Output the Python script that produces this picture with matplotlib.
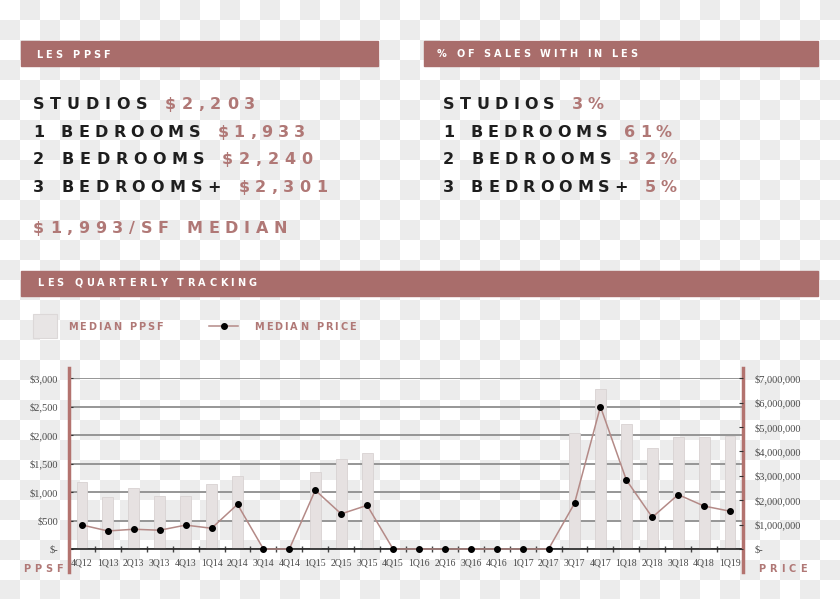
"""LES market snapshot: PPSF by unit type, sales mix and quarterly tracking."""
import numpy as np
import matplotlib
matplotlib.use('Agg')
import matplotlib.pyplot as plt
from matplotlib.patches import Rectangle
from matplotlib.font_manager import FontProperties
from matplotlib.ticker import FixedLocator, FuncFormatter

# ── data ─────────────────────────────────────────────────────────────────────
unit_types   = ['STUDIOS', '1 BEDROOMS', '2 BEDROOMS', '3 BEDROOMS+']
ppsf_by_unit = [2203, 1933, 2240, 2301]
share_by_unit = [3, 61, 32, 5]
median_ppsf_all = 1993

quarters = ['4Q12', '1Q13', '2Q13', '3Q13', '4Q13', '1Q14', '2Q14', '3Q14',
            '4Q14', '1Q15', '2Q15', '3Q15', '4Q15', '1Q16', '2Q16', '3Q16',
            '4Q16', '1Q17', '2Q17', '3Q17', '4Q17', '1Q18', '2Q18', '3Q18',
            '4Q18', '1Q19']
median_ppsf = [1180, 920, 1065, 930, 930, 1150, 1280, 0, 0, 1350, 1580, 1680,
               0, 0, 0, 0, 0, 0, 0, 2030, 2810, 2190, 1770, 1960, 1960, 1993]
median_price = [985000, 740000, 810000, 770000, 980000, 850000, 1830000, 0, 0,
                2410000, 1440000, 1790000, 0, 0, 0, 0, 0, 0, 0,
                1870000, 5840000, 2830000, 1300000, 2230000, 1760000, 1550000]

# ── style ────────────────────────────────────────────────────────────────────
W, H = 840, 599
ROSE_BAR = '#a96d6b'
ROSE_TXT = '#b07876'
ROSE_AXIS = '#b3736f'
DARK = '#1e1e1e'
SANS = 'DejaVu Sans'
SERIF = 'Liberation Serif'

fig = plt.figure(figsize=(W / 100, H / 100), dpi=100)
renderer = fig.canvas.get_renderer()

# background layer in pixel coordinates (transparent-checker look)
bg = fig.add_axes([0, 0, 1, 1], zorder=-1)
yy, xx = np.mgrid[0:H, 0:W]
checker = ((xx // 20 + yy // 20) % 2).astype(float)
bg.imshow(checker, cmap=matplotlib.colors.ListedColormap(['#ffffff', '#ececec']),
          extent=(0, W, H, 0), interpolation='nearest', aspect='auto')
bg.set_xlim(0, W)
bg.set_ylim(H, 0)
bg.axis('off')


def char_width(ch, prop):
    if ch == ' ':
        w2 = renderer.get_text_width_height_descent('S S', prop, ismath=False)[0]
        w1 = renderer.get_text_width_height_descent('SS', prop, ismath=False)[0]
        return w2 - w1
    return renderer.get_text_width_height_descent(ch, prop, ismath=False)[0]


def tracked(segments, x0, x1, yc, size):
    """Letter-spaced bold text from x0 to x1, vertically centred on yc (px)."""
    prop = FontProperties(family=SANS, weight='bold', size=size)
    chars = [(ch, col) for s, col in segments for ch in s]
    widths = [char_width(ch, prop) for ch, _ in chars]
    track = (x1 - x0 - sum(widths)) / (len(chars) - 1)
    base = yc + 0.365 * size * 100 / 72
    x = x0
    for (ch, col), w in zip(chars, widths):
        bg.text(x, base, ch, fontproperties=prop, color=col,
                ha='left', va='baseline')
        x += w + track


# header bars
for x0, y0, w, h in [(21, 41, 357, 25), (424, 41, 394, 25), (21, 271, 797, 25)]:
    bg.add_patch(Rectangle((x0, y0), w, h, color=ROSE_BAR, zorder=2))
tracked([('LES PPSF', 'white')], 36, 110, 54, 7)
tracked([('% OF SALES WITH IN LES', 'white')], 437, 637, 53, 7)
tracked([('LES QUARTERLY TRACKING', 'white')], 37, 257, 282, 7)

# PPSF by unit type
row_y = [103, 131, 158, 186]
left_end = [255, 305, 312, 327]
for name, val, yc, x1 in zip(unit_types, ppsf_by_unit, row_y, left_end):
    tracked([(name + ' ', DARK), (f'${val:,}', ROSE_TXT)], 33, x1, yc, 11.5)
tracked([(f'${median_ppsf_all:,}/SF MEDIAN', ROSE_TXT)], 33, 287, 227, 11.5)

# share of sales by unit type
right_end = [604, 672, 677, 677]
for name, val, yc, x1 in zip(unit_types, share_by_unit, row_y, right_end):
    tracked([(name + ' ', DARK), (f'{val}%', ROSE_TXT)], 443, x1, yc, 11.5)

# legend
bg.add_patch(Rectangle((33, 314), 24, 24, facecolor='#e8e5e5',
                       edgecolor='#dcd8d8', lw=0.8, zorder=2))
tracked([('MEDIAN PPSF', ROSE_TXT)], 68, 163, 326, 7)
bg.plot([209, 238], [326, 326], color='#b48a87', lw=1.1, zorder=3)
bg.plot([224], [326], 'o', color='black', ms=4, zorder=4)
tracked([('MEDIAN PRICE', ROSE_TXT)], 254, 356, 326, 7)

# axis titles
tracked([('PPSF', ROSE_TXT)], 23, 63, 568, 7)
tracked([('PRICE', ROSE_TXT)], 758, 807, 568, 7)

# ── quarterly chart ──────────────────────────────────────────────────────────
ax_l, ax_r, ax_b, ax_t = 69, 743, 549, 378.3
ax = fig.add_axes([ax_l / W, 1 - ax_b / H, (ax_r - ax_l) / W, (ax_b - ax_t) / H])
ax.patch.set_visible(False)
x = np.arange(len(quarters))

ax.bar(x, median_ppsf, width=0.42, color='#e6e1e1', edgecolor='#d8d2d2',
       linewidth=0.6, zorder=2)
ax.set_xlim(-0.5, len(quarters) - 0.5)
ax.set_ylim(0, 3000)
ax.set_yticks(np.arange(0, 3001, 500))
ax.yaxis.grid(True, color='#8e8e8e', lw=1.3, zorder=1)
ax.set_axisbelow(True)

money = FuncFormatter(lambda v, _: '$-' if v == 0 else f'${v:,.0f}')
ax.yaxis.set_major_formatter(money)
ax.tick_params(axis='y', direction='in', length=3, color='#333333', pad=8,
               labelsize=7.5, labelcolor='#4a4a4a')

ax.set_xticks(x)
ax.set_xticklabels(quarters)
ax.xaxis.set_minor_locator(FixedLocator(x[:-1] + 0.5))
ax.tick_params(axis='x', which='major', length=0, pad=7, labelsize=7,
               labelcolor='#4a4a4a')
ax.tick_params(axis='x', which='minor', direction='inout', length=5,
               color='#444444', width=1)
for lab in ax.get_xticklabels() + ax.get_yticklabels():
    lab.set_family(SERIF)

for side in ['top', 'right', 'left']:
    ax.spines[side].set_visible(False)
ax.spines['bottom'].set_color('#222222')
ax.spines['bottom'].set_linewidth(1.2)

# extended rose axis lines
for xa in (0, 1):
    ax.plot([xa, xa], [-0.135, 1.06], transform=ax.transAxes, color=ROSE_AXIS,
            lw=2.5, clip_on=False, zorder=5)

ax2 = ax.twinx()
ax2.plot(x, median_price, color='#b48a87', lw=1.1, marker='o', ms=4,
         mfc='black', mec='black', zorder=3, clip_on=False)
ax2.set_ylim(0, 7_000_000)
ax2.set_yticks(np.arange(0, 7_000_001, 1_000_000))
ax2.yaxis.set_major_formatter(money)
ax2.tick_params(axis='y', direction='in', length=3, color='#333333', pad=8,
                labelsize=7.5, labelcolor='#4a4a4a')
for lab in ax2.get_yticklabels():
    lab.set_family(SERIF)
for side in ax2.spines:
    ax2.spines[side].set_visible(False)

fig.savefig('out.png', dpi=100)
